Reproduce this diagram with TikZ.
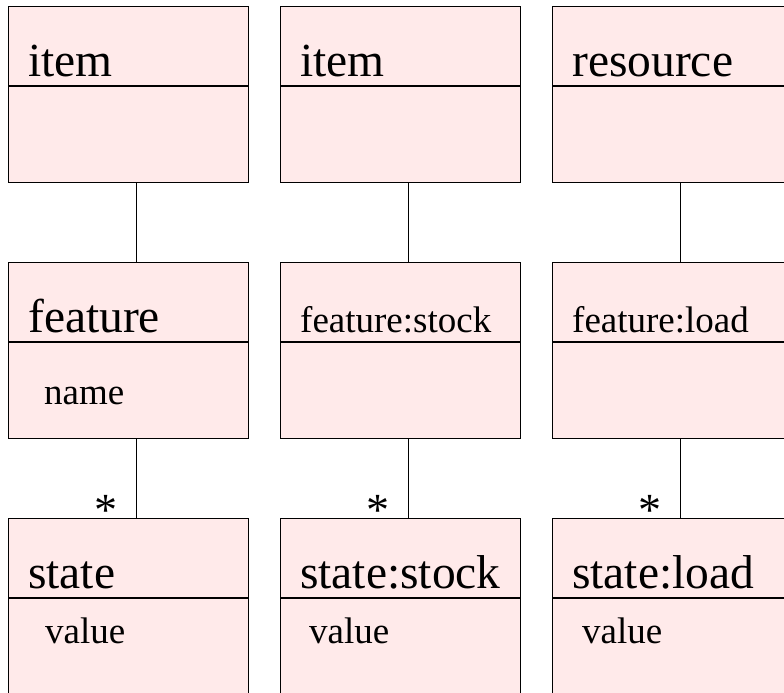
\documentclass[tikz,border=0pt]{standalone}
\usepackage{fontspec}
\setmainfont{Liberation Serif}
\definecolor{classfill}{RGB}{255,234,234}

\begin{document}
\begin{tikzpicture}[x=1pt,y=-1pt,
    classbox/.style={draw, line width=1.4pt, fill=classfill, minimum width=240pt,
        minimum height=176pt, inner sep=0pt, anchor=north west},
    divider/.style={line width=1.4pt},
    bigtitle/.style={anchor=base west, inner sep=0pt, font=\fontsize{47.5}{50}\selectfont},
    smalltitle/.style={anchor=base west, inner sep=0pt, font=\fontsize{37}{40}\selectfont},
    attr/.style={anchor=base west, inner sep=0pt, font=\fontsize{37}{40}\selectfont},
    link/.style={line width=1pt},
    mult/.style={anchor=base, inner sep=0pt, font=\fontsize{46}{48}\selectfont}]
    \useasboundingbox (0,0) rectangle (784,693);
    \clip (0,0) rectangle (784,693);

    % Generic item / feature / state
    \node[classbox] (item1) at (8,6) {};
    \draw[divider] ([yshift=-80pt]item1.north west) -- ([yshift=-80pt]item1.north east);
    \node[bigtitle] (item1name) at ([xshift=20pt,yshift=-71pt]item1.north west) {item};

    \node[classbox] (feature1) at (8,262) {};
    \draw[divider] ([yshift=-80pt]feature1.north west) -- ([yshift=-80pt]feature1.north east);
    \node[bigtitle] (feature1name) at ([xshift=20pt,yshift=-70pt]feature1.north west) {feature};
    \node[attr] (feature1attr) at ([xshift=36pt,yshift=-142pt]feature1.north west) {name};

    \node[classbox] (state1) at (8,518) {};
    \draw[divider] ([yshift=-80pt]state1.north west) -- ([yshift=-80pt]state1.north east);
    \node[bigtitle] (state1name) at ([xshift=20pt,yshift=-70pt]state1.north west) {state};
    \node[attr] (state1attr) at ([xshift=37pt,yshift=-125pt]state1.north west) {value};

    % Stock of an item
    \node[classbox] (item2) at (280,6) {};
    \draw[divider] ([yshift=-80pt]item2.north west) -- ([yshift=-80pt]item2.north east);
    \node[bigtitle] (item2name) at ([xshift=20pt,yshift=-71pt]item2.north west) {item};

    \node[classbox] (feature2) at (280,262) {};
    \draw[divider] ([yshift=-80pt]feature2.north west) -- ([yshift=-80pt]feature2.north east);
    \node[smalltitle] (feature2name) at ([xshift=20pt,yshift=-70pt]feature2.north west) {feature:stock};

    \node[classbox] (state2) at (280,518) {};
    \draw[divider] ([yshift=-80pt]state2.north west) -- ([yshift=-80pt]state2.north east);
    \node[bigtitle] (state2name) at ([xshift=20pt,yshift=-70pt]state2.north west) {state:stock};
    \node[attr] (state2attr) at ([xshift=29pt,yshift=-125pt]state2.north west) {value};

    % Load of a resource
    \node[classbox] (resource3) at (552,6) {};
    \draw[divider] ([yshift=-80pt]resource3.north west) -- ([yshift=-80pt]resource3.north east);
    \node[bigtitle] (resource3name) at ([xshift=20pt,yshift=-71pt]resource3.north west) {resource};

    \node[classbox] (feature3) at (552,262) {};
    \draw[divider] ([yshift=-80pt]feature3.north west) -- ([yshift=-80pt]feature3.north east);
    \node[smalltitle] (feature3name) at ([xshift=20pt,yshift=-70pt]feature3.north west) {feature:load};

    \node[classbox] (state3) at (552,518) {};
    \draw[divider] ([yshift=-80pt]state3.north west) -- ([yshift=-80pt]state3.north east);
    \node[bigtitle] (state3name) at ([xshift=20pt,yshift=-70pt]state3.north west) {state:load};
    \node[attr] (state3attr) at ([xshift=30pt,yshift=-125pt]state3.north west) {value};

    % Associations
    \draw[link] ([xshift=8pt]item1.south) -- ([xshift=8pt]feature1.north);
    \draw[link] ([xshift=8pt]feature1.south) -- ([xshift=8pt]state1.north);
    \draw[link] ([xshift=8pt]item2.south) -- ([xshift=8pt]feature2.north);
    \draw[link] ([xshift=8pt]feature2.south) -- ([xshift=8pt]state2.north);
    \draw[link] ([xshift=8pt]resource3.south) -- ([xshift=8pt]feature3.north);
    \draw[link] ([xshift=8pt]feature3.south) -- ([xshift=8pt]state3.north);

    % Multiplicities
    \node[mult] (mult1) at ([xshift=-23pt,yshift=-7pt]state1.north) {*};
    \node[mult] (mult2) at ([xshift=-23pt,yshift=-7pt]state2.north) {*};
    \node[mult] (mult3) at ([xshift=-23pt,yshift=-7pt]state3.north) {*};
\end{tikzpicture}
\end{document}
